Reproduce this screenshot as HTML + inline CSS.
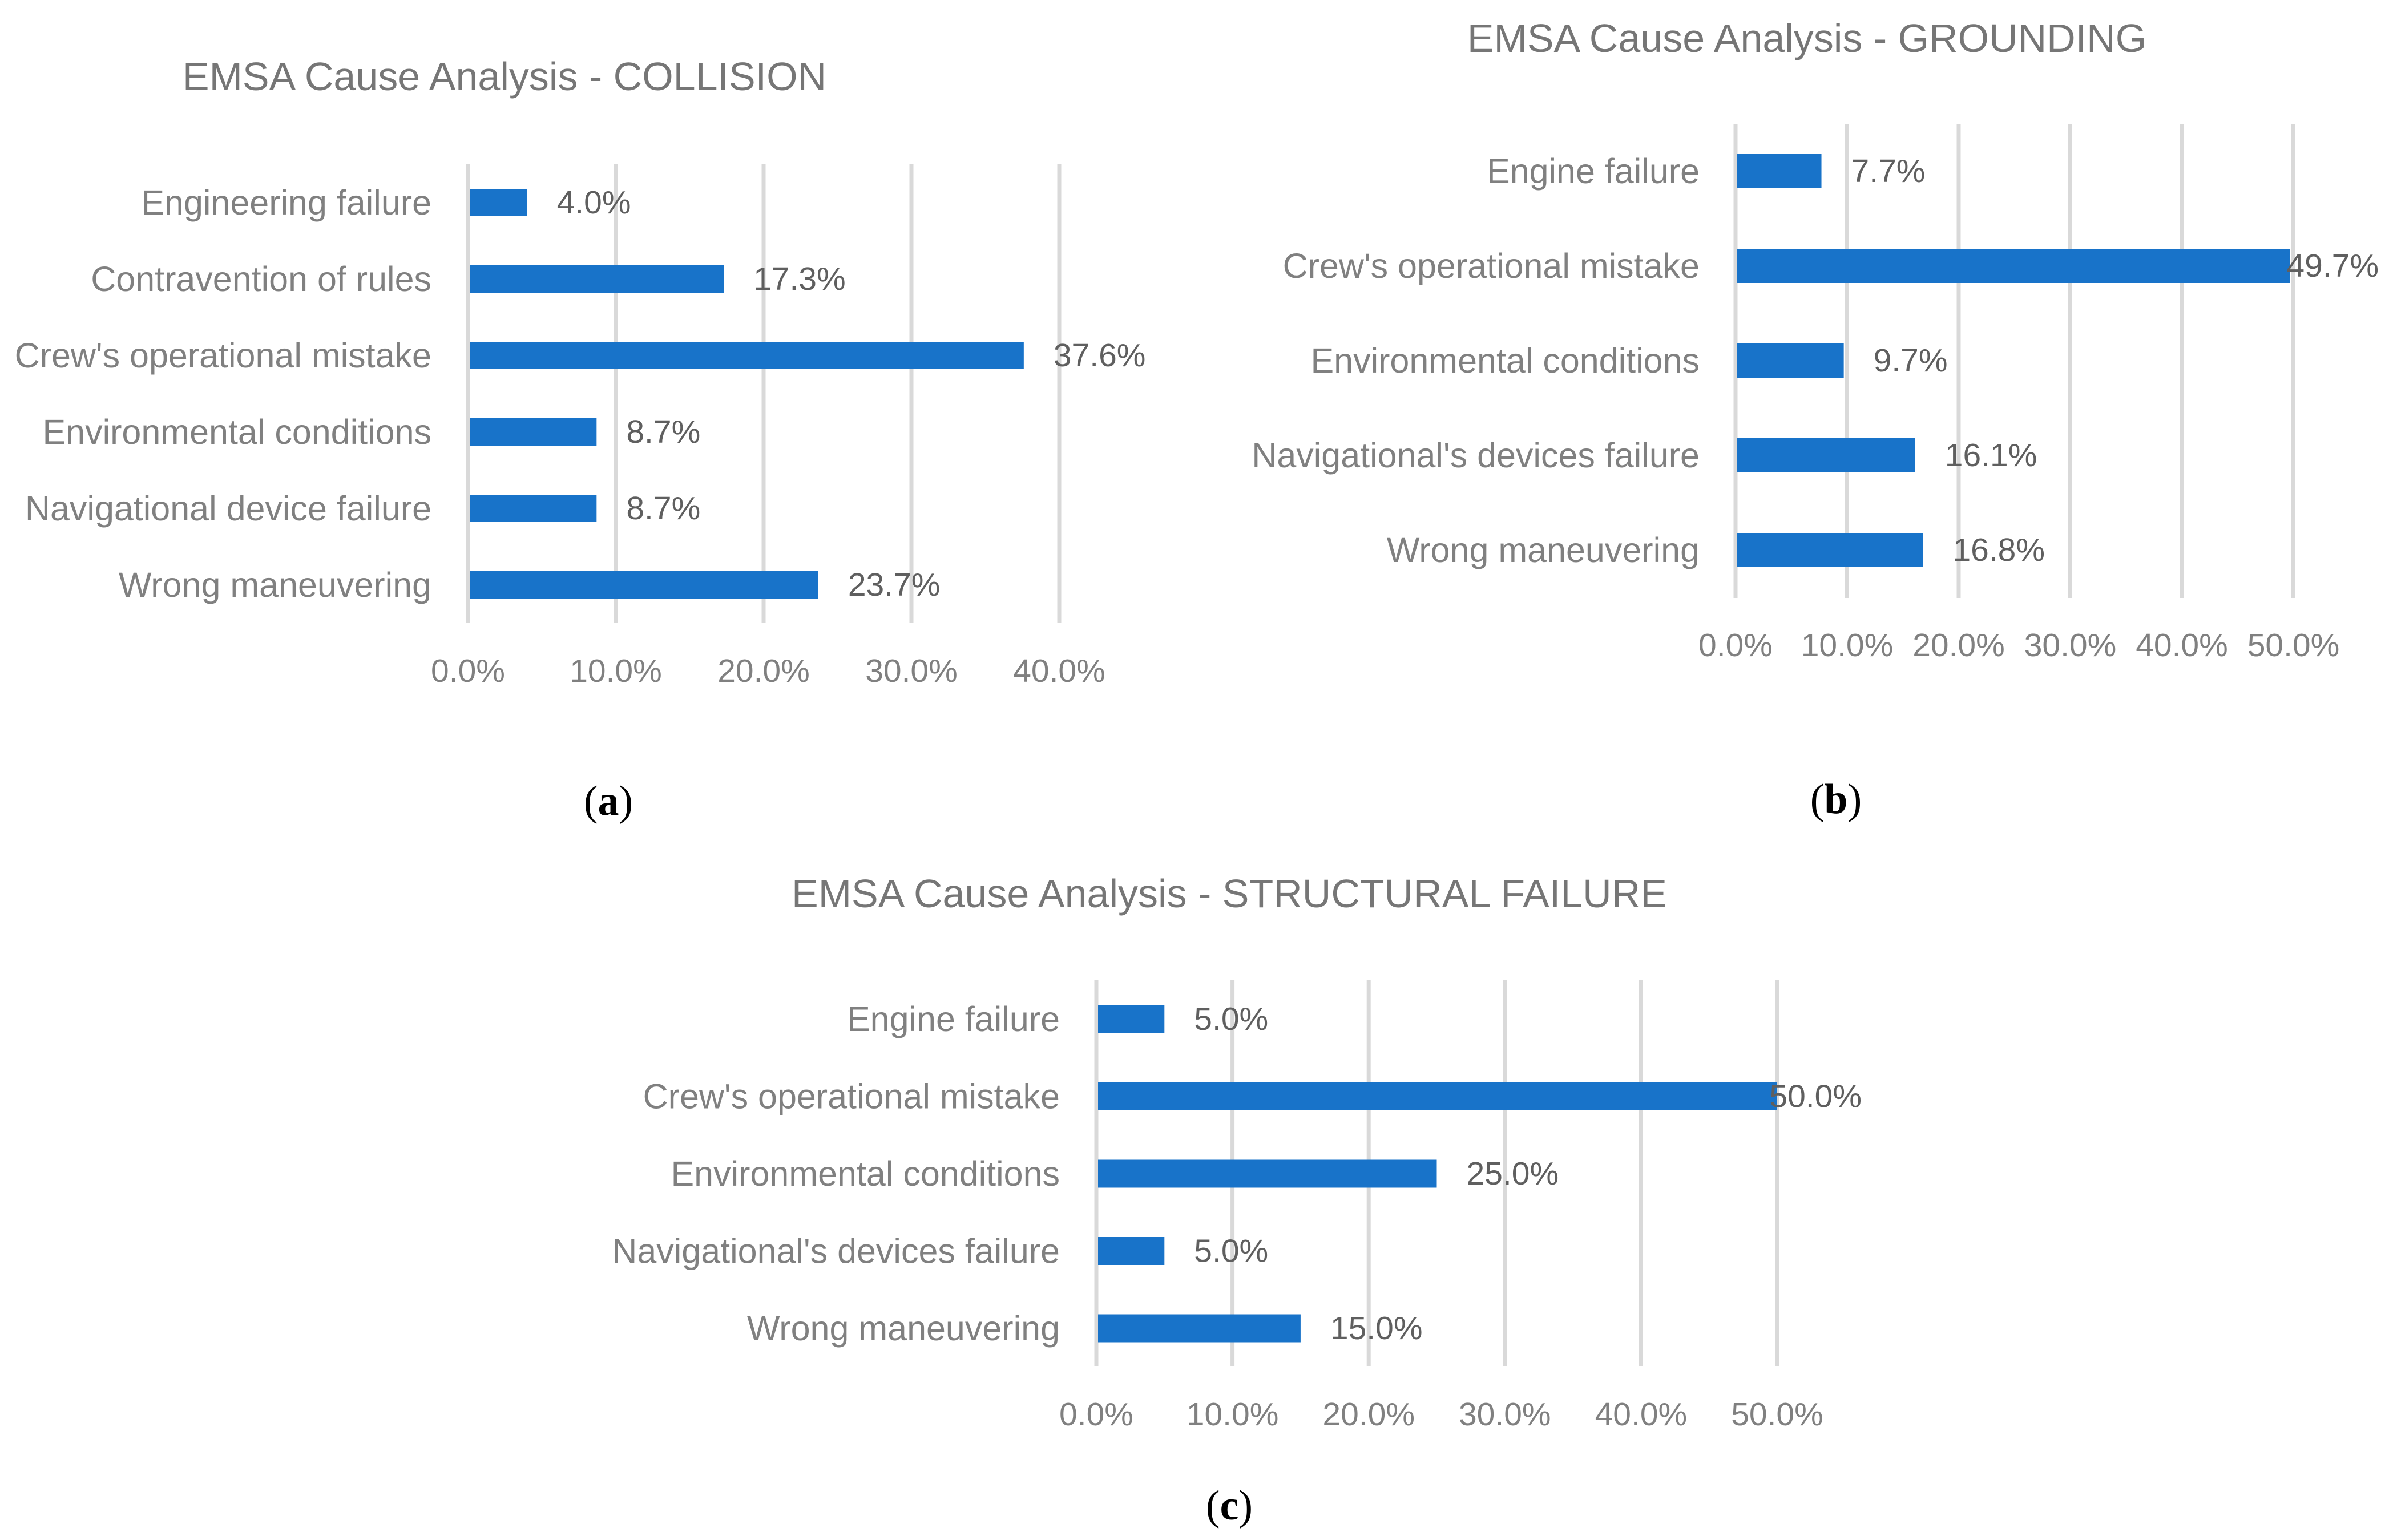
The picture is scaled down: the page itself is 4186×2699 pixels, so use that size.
<!DOCTYPE html>
<html><head><meta charset="utf-8"><style>
html,body{margin:0;padding:0;background:#fff;}
svg{display:block;font-family:"Liberation Sans",sans-serif;}
</style></head><body>
<svg id="fig" width="4186" height="2699" viewBox="0 0 4186 2699" xmlns="http://www.w3.org/2000/svg">
<rect width="4186" height="2699" fill="#fff"/>
<g id="chartA"></g>
<g id="chartB"></g>
<g id="chartC"></g>
<text x="1066" y="1428" text-anchor="middle" font-family="Liberation Serif,serif" font-size="74" fill="#000">(<tspan font-weight="bold">a</tspan>)</text>
<text x="3217" y="1425" text-anchor="middle" font-family="Liberation Serif,serif" font-size="74" fill="#000">(<tspan font-weight="bold">b</tspan>)</text>
<text x="2154" y="2663" text-anchor="middle" font-family="Liberation Serif,serif" font-size="74" fill="#000">(<tspan font-weight="bold">c</tspan>)</text>
</svg>
<script>
const catsA = ["Engineering failure","Contravention of rules","Crew's operational mistake","Environmental conditions","Navigational device failure","Wrong maneuvering"];
const valsA = [4.0,17.3,37.6,8.7,8.7,23.7];
const ticksA = [0,10,20,30,40];
const catsB = ["Engine failure ","Crew's operational mistake","Environmental conditions","Navigational's devices failure","Wrong maneuvering"];
const valsB = [7.7,49.7,9.7,16.1,16.8];
const ticksB = [0,10,20,30,40,50];
const catsC = ["Engine failure","Crew's operational mistake","Environmental conditions","Navigational's devices failure","Wrong maneuvering"];
const valsC = [5.0,50.0,25.0,5.0,15.0];
const ticksC = [0,10,20,30,40,50];
const titleA = "EMSA Cause Analysis - COLLISION";
const titleB = "EMSA Cause Analysis - GROUNDING";
const titleC = "EMSA Cause Analysis - STRUCTURAL FAILURE";

const NS="http://www.w3.org/2000/svg";
function mk(tag,attrs,parent){const e=document.createElementNS(NS,tag);for(const k in attrs)e.setAttribute(k,attrs[k]);parent.appendChild(e);return e;}

function draw(g,cfg,cats,vals,ticks,title){
  const x=v=>cfg.x0+v*cfg.unit;
  const y=i=>cfg.yc0+i*cfg.pitch;
  const t=mk('text',{x:cfg.tx,y:cfg.ty,'text-anchor':'middle','dominant-baseline':'central','font-size':70,fill:'#767676'},g);
  
  
  t.textContent=title;
  ticks.forEach(v=>{
    const l=mk('line',{x1:x(v),x2:x(v),y1:cfg.gTop,y2:cfg.gBot,stroke:'#d9d9d9','stroke-width':7},g);
    
    
    const tl=mk('text',{x:x(v),y:cfg.tickY,'text-anchor':'middle','dominant-baseline':'central','font-size':57,fill:'#808080'},g);
    
    
    tl.textContent=v.toFixed(1)+'%';
  });
  cats.forEach((c,i)=>{
    const cl=mk('text',{x:cfg.labR,y:y(i),'text-anchor':'end','dominant-baseline':'central','font-size':61,fill:'#808080','xml:space':'preserve'},g);
    
    
    cl.textContent=c;
    const b=mk('rect',{x:x(0)+3,y:y(i)-cfg.bh/2,width:Math.max(0,x(vals[i])-x(0)-3),height:cfg.bh,fill:'#1873c9'},g);
    
    
    const vl=mk('text',{x:x(vals[i])+52,y:y(i),'dominant-baseline':'central','font-size':57,fill:'#5f5f5f'},g);
    
    
    vl.textContent=vals[i].toFixed(1)+'%';
    const w=vl.getComputedTextLength();
    if(x(vals[i])+52+w>cfg.limit) vl.setAttribute('x',cfg.limit-w);
  });
}
draw(document.getElementById('chartA'),{x0:820,unit:25.9,yc0:355,pitch:134,bh:48,gTop:288,gBot:1092,tickY:1176,labR:756,tx:884,ty:134,limit:2080},catsA,valsA,ticksA,titleA);
draw(document.getElementById('chartB'),{x0:3041,unit:19.55,yc0:300,pitch:166,bh:60,gTop:217,gBot:1048,tickY:1131,labR:2978,tx:3166,ty:67,limit:4168},catsB,valsB,ticksB,titleB);
draw(document.getElementById('chartC'),{x0:1921,unit:23.86,yc0:1786,pitch:135.5,bh:49,gTop:1718,gBot:2394,tickY:2479,labR:1857,tx:2154,ty:1566,limit:3262},catsC,valsC,ticksC,titleC);
</script>
</body></html>
